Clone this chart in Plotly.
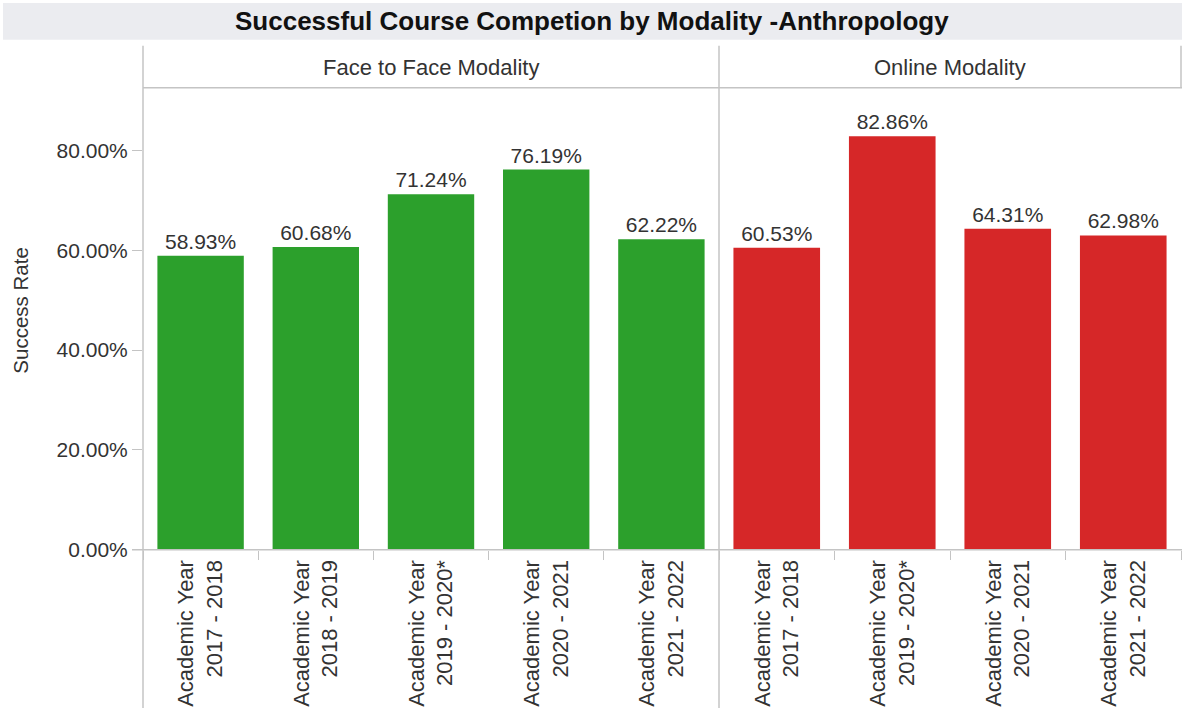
import plotly.graph_objects as go

W, H = 1182, 719
# height the page actually shows the figure at, used for paper fractions
H_SHOWN = 711

F2F_YEARS = [
    "Academic Year<br>2017 - 2018",
    "Academic Year<br>2018 - 2019",
    "Academic Year<br>2019 - 2020*",
    "Academic Year<br>2020 - 2021",
    "Academic Year<br>2021 - 2022",
]
F2F_RATES = [58.93, 60.68, 71.24, 76.19, 62.22]

ONLINE_YEARS = [
    "Academic Year<br>2017 - 2018",
    "Academic Year<br>2019 - 2020*",
    "Academic Year<br>2020 - 2021",
    "Academic Year<br>2021 - 2022",
]
ONLINE_RATES = [60.53, 82.86, 64.31, 62.98]

Y_TICKS = [0, 20, 40, 60, 80]

GREEN = "#2ca02c"
RED = "#d62728"
TEXT = "#333333"
LINE = "#c4c4c4"
FONT = "Liberation Sans, Arial, Helvetica, sans-serif"


def px_x(x):
    return x / W


def px_y(y):
    return 1 - y / H_SHOWN


fig = go.Figure()
fig.add_trace(
    go.Bar(
        x=F2F_YEARS,
        y=F2F_RATES,
        marker=dict(color=GREEN, line=dict(width=0)),
        text=[f"{v:.2f}%" for v in F2F_RATES],
        textposition="outside",
        textfont=dict(size=21, color=TEXT),
        cliponaxis=False,
        xaxis="x",
        yaxis="y",
    )
)
fig.add_trace(
    go.Bar(
        x=ONLINE_YEARS,
        y=ONLINE_RATES,
        marker=dict(color=RED, line=dict(width=0)),
        text=[f"{v:.2f}%" for v in ONLINE_RATES],
        textposition="outside",
        textfont=dict(size=21, color=TEXT),
        cliponaxis=False,
        xaxis="x2",
        yaxis="y2",
    )
)

y_dom = [px_y(552), px_y(88)]
y_range = [0, 92.6]
xaxis_common = dict(
    tickangle=-90,
    tickson="boundaries",
    ticks="outside",
    ticklen=9,
    tickcolor=LINE,
    tickfont=dict(size=22, color=TEXT),
    ticklabelstandoff=5,
    showgrid=False,
    showline=False,
    zeroline=False,
)
fig.update_layout(
    width=W,
    height=H,
    margin=dict(l=0, r=0, t=0, b=0),
    paper_bgcolor="white",
    plot_bgcolor="white",
    showlegend=False,
    bargap=0.25,
    font=dict(family=FONT, color=TEXT),
    xaxis=dict(domain=[px_x(143), px_x(719)], anchor="y", **xaxis_common),
    xaxis2=dict(domain=[px_x(719), px_x(1181)], anchor="y2", **xaxis_common),
    yaxis=dict(
        domain=y_dom,
        range=y_range,
        tickvals=Y_TICKS,
        ticktext=[f"{v:.2f}%" for v in Y_TICKS],
        ticks="outside",
        ticklen=10,
        tickcolor=LINE,
        tickfont=dict(size=21, color=TEXT),
        showgrid=False,
        showline=False,
        zeroline=False,
        anchor="x",
    ),
    yaxis2=dict(
        domain=y_dom,
        range=y_range,
        matches="y",
        showticklabels=False,
        showgrid=False,
        showline=False,
        zeroline=False,
        anchor="x2",
    ),
)

# title band, facet header box and panel lines
shapes = [
    dict(type="rect", xref="paper", yref="paper", x0=px_x(3), x1=px_x(1182), y0=px_y(40), y1=px_y(3),
         fillcolor="#ebecf0", line=dict(width=0), layer="below"),
    dict(type="line", xref="paper", yref="paper", x0=px_x(143), x1=px_x(1182), y0=px_y(88), y1=px_y(88),
         line=dict(color=LINE, width=1.5)),
    dict(type="line", xref="paper", yref="paper", x0=px_x(132), x1=px_x(1182), y0=px_y(552), y1=px_y(552),
         line=dict(color=LINE, width=1.5)),
    dict(type="line", xref="paper", yref="paper", x0=px_x(143), x1=px_x(143), y0=px_y(46), y1=0,
         line=dict(color=LINE, width=1.5)),
    dict(type="line", xref="paper", yref="paper", x0=px_x(719), x1=px_x(719), y0=px_y(46), y1=0,
         line=dict(color=LINE, width=1.5)),
    dict(type="line", xref="paper", yref="paper", x0=px_x(1181), x1=px_x(1181), y0=px_y(46), y1=px_y(88),
         line=dict(color=LINE, width=1.5)),
]
fig.update_layout(shapes=shapes)

annotations = [
    dict(text="<b>Successful Course Competion by Modality -Anthropology</b>", x=px_x(592), y=px_y(21),
         font=dict(size=26, color="#111111")),
    dict(text="Face to Face Modality", x=px_x(431), y=px_y(68), font=dict(size=22, color=TEXT)),
    dict(text="Online Modality", x=px_x(950), y=px_y(68), font=dict(size=22, color=TEXT)),
    dict(text="Success Rate", x=px_x(21), y=px_y(312), textangle=-90, font=dict(size=20.5, color=TEXT)),
]
for a in annotations:
    fig.add_annotation(xref="paper", yref="paper", showarrow=False, xanchor="center", yanchor="middle", **a)

fig.write_html(
    "out.html",
    config={"displayModeBar": False},
    post_script="document.body.style.margin='0';",
)
